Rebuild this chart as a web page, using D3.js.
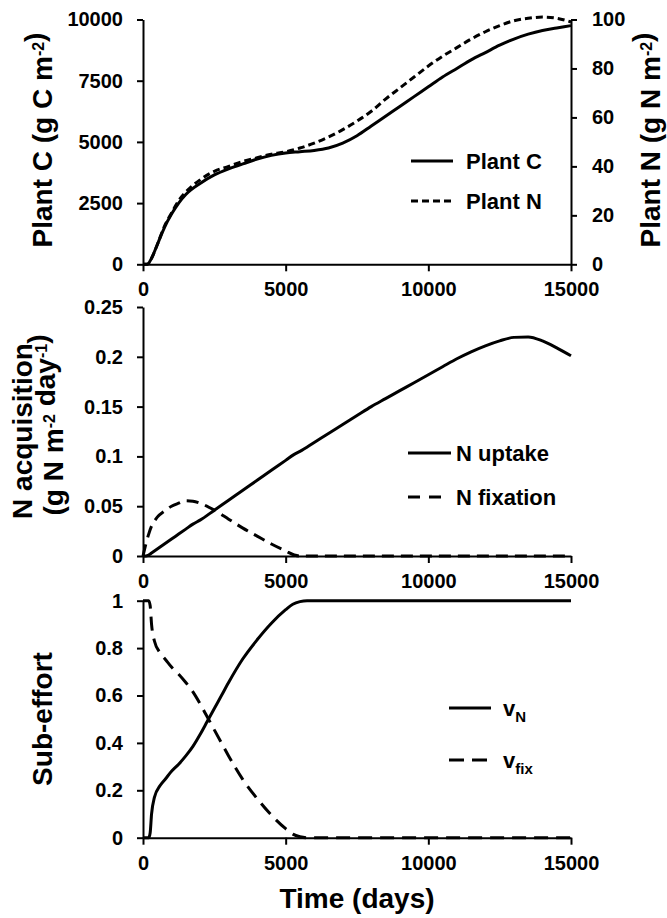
<!DOCTYPE html>
<html>
<head>
<meta charset="utf-8">
<script src="https://cdn.jsdelivr.net/npm/d3@7"></script>
<style>
  html, body { margin: 0; padding: 0; background: #fff; }
  svg text { font-family: "Liberation Sans", Arial, sans-serif; font-weight: bold; fill: #000; }
</style>
</head>
<body>
<svg id="chart" width="667" height="918"></svg>
<script>
// ---- Data -------------------------------------------------------------
const timeTicks = [0, 5000, 10000, 15000];

// Plant carbon (g C m-2) and nitrogen (g N m-2) over time
const plantDays = [0, 150, 300, 500, 750, 1000, 1250, 1500, 2000, 2500, 3000, 3500, 4000, 4500,
  5000, 5500, 6000, 6500, 7000, 7500, 8000, 8500, 9000, 9500, 10000, 10500, 11000, 11500,
  12000, 12500, 13000, 13500, 14000, 14500, 15000];
const plantC = [0, 0, 250, 800, 1500, 2050, 2500, 2850, 3300, 3650, 3900, 4100, 4300, 4450,
  4550, 4600, 4650, 4750, 4950, 5250, 5650, 6050, 6450, 6850, 7250, 7650, 8000, 8350,
  8650, 8950, 9200, 9400, 9550, 9650, 9750];
const plantN = [0, 0, 2.5, 8, 15.5, 21, 26, 29.5, 34.5, 38, 40, 42, 43.5, 45,
  46, 47.5, 49.5, 52, 55, 58.5, 62.5, 67.5, 72, 76.5, 81, 85, 88.5, 92,
  95, 97.5, 99.5, 100.5, 101, 100.5, 99];
const plantCTicks = [0, 2500, 5000, 7500, 10000];
const plantNTicks = [0, 20, 40, 60, 80, 100];

// N acquisition rates (g N m-2 day-1)
const acqDays = [0, 100, 200, 300, 400, 500, 750, 1000, 1250, 1500, 1750, 2000, 2500, 3000,
  3500, 4000, 4500, 5000, 5300, 5500, 6000, 6500, 7000, 7500, 8000, 8500, 9000, 9500,
  10000, 10500, 11000, 11500, 12000, 12500, 13000, 13500, 14000, 14500, 15000];
const nUptake = [0, 0, 0.001, 0.003, 0.005, 0.007, 0.012, 0.017, 0.022, 0.027, 0.032, 0.036, 0.046, 0.056,
  0.066, 0.076, 0.086, 0.096, 0.102, 0.105, 0.114, 0.123, 0.132, 0.141, 0.15, 0.158, 0.166, 0.174,
  0.182, 0.19, 0.198, 0.205, 0.211, 0.216, 0.2195, 0.22, 0.216, 0.209, 0.201];
const nFixation = [0, 0.012, 0.022, 0.03, 0.035, 0.039, 0.045, 0.05, 0.053, 0.0555, 0.055, 0.053, 0.046, 0.037,
  0.028, 0.02, 0.012, 0.005, 0.001, 0, 0, 0, 0, 0, 0, 0, 0, 0,
  0, 0, 0, 0, 0, 0, 0, 0, 0, 0, 0];
const acqTicks = [0, 0.05, 0.1, 0.15, 0.2, 0.25];
const acqTickLabels = ["0", "0.05", "0.1", "0.15", "0.2", "0.25"];

// Sub-efforts for uptake (vN) and fixation (vfix)
const effortDays = [0, 100, 200, 250, 300, 400, 600, 800, 1000, 1250, 1500, 1750, 2000, 2250,
  2500, 2750, 3000, 3500, 4000, 4500, 5000, 5250, 5500, 5750, 6000, 8000, 10000, 12000, 15000];
const vN = [0, 0, 0, 0.02, 0.1, 0.17, 0.22, 0.25, 0.28, 0.31, 0.345, 0.385, 0.435, 0.49,
  0.545, 0.6, 0.655, 0.755, 0.835, 0.905, 0.962, 0.985, 0.996, 1, 1, 1, 1, 1, 1];
const vFix = [1, 1, 1, 0.98, 0.9, 0.83, 0.78, 0.75, 0.72, 0.69, 0.655, 0.615, 0.565, 0.51,
  0.455, 0.4, 0.345, 0.245, 0.165, 0.095, 0.038, 0.015, 0.004, 0, 0, 0, 0, 0, 0];
const effortTicks = [0, 0.2, 0.4, 0.6, 0.8, 1];
const effortTickLabels = ["0", "0.2", "0.4", "0.6", "0.8", "1"];

// ---- Layout -----------------------------------------------------------
const svg = d3.select("#chart");
const left = 143, right = 571;
const x = d3.scaleLinear().domain([0, 15000]).range([left, right]);

const panels = [
  { top: 19.5, bottom: 264.3 },
  { top: 307, bottom: 556 },
  { top: 600.7, bottom: 837.7 }
];

const lineW = 3;
const tickFont = "20px";
const legendFont = "22px";
const titleFont = "28px";

function styleAxis(g) {
  g.selectAll("path.domain").attr("stroke", "#000").attr("stroke-width", 2);
  g.selectAll(".tick line").attr("stroke", "#000").attr("stroke-width", 2);
  g.selectAll("text").style("font-size", tickFont).attr("fill", "#000");
}

function drawXAxis(p) {
  const g = svg.append("g").attr("transform", `translate(0,${p.bottom})`)
    .call(d3.axisBottom(x).tickValues(timeTicks).tickFormat(d3.format("d"))
      .tickSize(7).tickSizeOuter(0).tickPadding(11));
  styleAxis(g);
}

function drawYAxis(p, y, ticks, labels) {
  const g = svg.append("g").attr("transform", `translate(${left},0)`)
    .call(d3.axisLeft(y).tickValues(ticks).tickFormat((d, i) => labels[i])
      .tickSize(6).tickSizeOuter(0).tickPadding(14));
  styleAxis(g);
}

function series(days, vals) { return days.map((d, i) => [d, vals[i]]); }

function drawLine(y, data, dash) {
  svg.append("path")
    .datum(data)
    .attr("fill", "none")
    .attr("stroke", "#000")
    .attr("stroke-width", lineW)
    .attr("stroke-dasharray", dash || null)
    .attr("d", d3.line().x(d => x(d[0])).y(d => y(d[1])).curve(d3.curveMonotoneX));
}

function legendItem(x0, x1, yy, dash, tx, build) {
  svg.append("line").attr("x1", x0).attr("x2", x1).attr("y1", yy).attr("y2", yy)
    .attr("stroke", "#000").attr("stroke-width", lineW)
    .attr("stroke-dasharray", dash || null);
  const t = svg.append("text").attr("x", tx).attr("y", yy + 8).style("font-size", legendFont);
  build(t);
}

function rotatedTitle(cx, cy, build) {
  const t = svg.append("text")
    .attr("transform", `translate(${cx},${cy}) rotate(-90)`)
    .attr("text-anchor", "middle")
    .style("font-size", titleFont);
  build(t);
}

function sup(t, s) {
  t.append("tspan").attr("dy", -8).style("font-size", "16px").text(s);
  t.append("tspan").attr("dy", 8).text("");
}

// ---- Panel 1: plant C and N -------------------------------------------
const p1 = panels[0];
const yC = d3.scaleLinear().domain([0, 10000]).range([p1.bottom, p1.top]);
const yN = d3.scaleLinear().domain([0, 100]).range([p1.bottom, p1.top]);

drawLine(yC, series(plantDays, plantC), null);
drawLine(yN, series(plantDays, plantN), "7,4");
drawXAxis(p1);
drawYAxis(p1, yC, plantCTicks, plantCTicks.map(String));
{
  const g = svg.append("g").attr("transform", `translate(${right},0)`)
    .call(d3.axisRight(yN).tickValues(plantNTicks).tickFormat(d3.format("d"))
      .tickSize(6).tickSizeOuter(0).tickPadding(15));
  styleAxis(g);
}
rotatedTitle(52, 140, t => {
  t.append("tspan").text("Plant C (g C m");
  sup(t, "-2");
  t.append("tspan").text(")");
});
rotatedTitle(660, 140, t => {
  t.append("tspan").text("Plant N (g N m");
  sup(t, "-2");
  t.append("tspan").text(")");
});
legendItem(411, 453, 161, null, 466, t => t.text("Plant C"));
legendItem(411, 453, 201, "7,4", 466, t => t.text("Plant N"));

// ---- Panel 2: N acquisition -------------------------------------------
const p2 = panels[1];
const yA = d3.scaleLinear().domain([0, 0.25]).range([p2.bottom, p2.top]);
drawXAxis(p2);
drawYAxis(p2, yA, acqTicks, acqTickLabels);
drawLine(yA, series(acqDays, nUptake), null);
drawLine(yA, series(acqDays, nFixation), "12,7");
rotatedTitle(32, 431, t => t.text("N acquisition"));
rotatedTitle(63, 425, t => {
  t.append("tspan").text("(g N m");
  sup(t, "-2");
  t.append("tspan").text(" day");
  sup(t, "-1");
  t.append("tspan").text(")");
});
legendItem(408, 451, 453, null, 456, t => t.text("N uptake"));
legendItem(408, 445, 497, "12,9", 456, t => t.text("N fixation"));

// ---- Panel 3: sub-effort ----------------------------------------------
const p3 = panels[2];
const yE = d3.scaleLinear().domain([0, 1]).range([p3.bottom, p3.top]);
drawXAxis(p3);
drawYAxis(p3, yE, effortTicks, effortTickLabels);
drawLine(yE, series(effortDays, vN), null);
drawLine(yE, series(effortDays, vFix), "14,8");
rotatedTitle(52, 719, t => t.text("Sub-effort"));
legendItem(449, 491, 708, null, 503, t => {
  t.append("tspan").text("v");
  t.append("tspan").attr("dy", 6).style("font-size", "15px").text("N");
});
legendItem(449, 487, 760, "15,8", 503, t => {
  t.append("tspan").text("v");
  t.append("tspan").attr("dy", 6).style("font-size", "15px").text("fix");
});

svg.append("text").attr("x", (left + right) / 2).attr("y", 908)
  .attr("text-anchor", "middle").style("font-size", titleFont).text("Time (days)");
</script>
</body>
</html>
